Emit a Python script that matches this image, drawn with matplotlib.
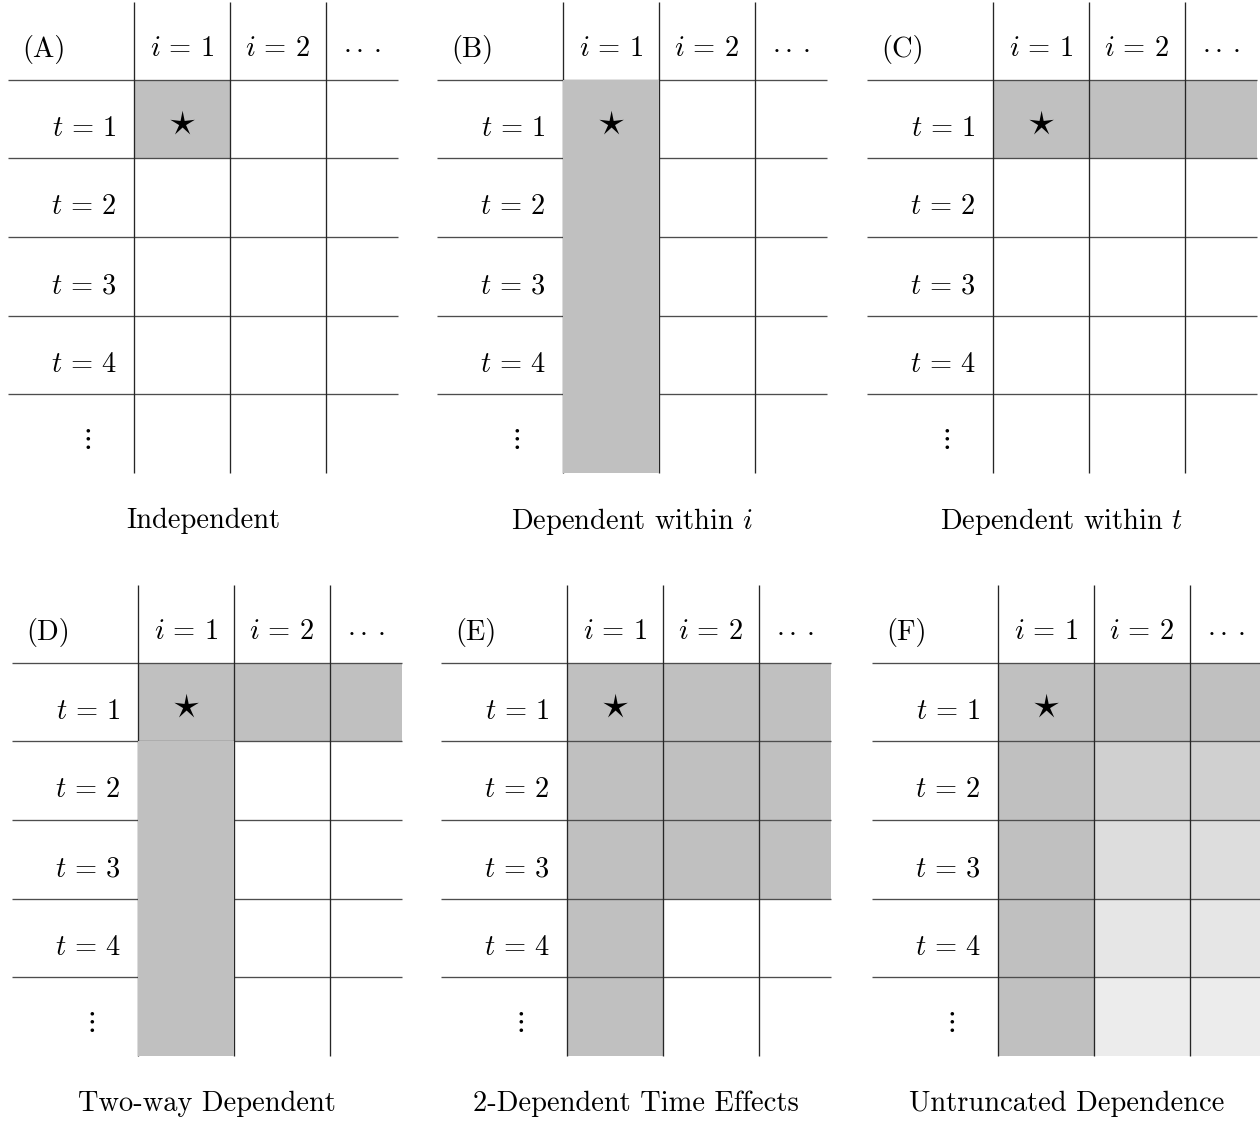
import numpy as np
import matplotlib
matplotlib.use("Agg")
import matplotlib.pyplot as plt

plt.rcParams['font.family'] = ['cmr10', 'DejaVu Serif']
plt.rcParams['mathtext.fontset'] = 'cm'

# panel letters and captions
panel_labels = ['(A)', '(B)', '(C)', '(D)', '(E)', '(F)']
captions = ['Independent', r'Dependent within $i$', r'Dependent within $t$',
            'Two-way Dependent', '2-Dependent Time Effects', 'Untruncated Dependence']
col_labels = [r'$i\,=\,1$', r'$i\,=\,2$', r'$\cdot\cdot\cdot$']
row_labels = [r'$t\,=\,1$', r'$t\,=\,2$', r'$t\,=\,3$', r'$t\,=\,4$', r'$\vdots$']

# cell brightness (1 = white), rows t=1..4, vdots ; cols i=1, i=2, dots
W = 1.0
G = 0.75
shade_A = [[G, W, W], [W, W, W], [W, W, W], [W, W, W], [W, W, W]]
shade_B = [[G, W, W], [G, W, W], [G, W, W], [G, W, W], [G, W, W]]
shade_C = [[G, G, G], [W, W, W], [W, W, W], [W, W, W], [W, W, W]]
shade_D = [[G, G, G], [G, W, W], [G, W, W], [G, W, W], [G, W, W]]
shade_E = [[G, G, G], [G, G, G], [G, G, G], [G, W, W], [G, W, W]]
shade_F = [[G, G, G], [G, 0.815, 0.815], [G, 0.865, 0.865], [G, 0.90, 0.90], [G, 0.925, 0.925]]
shades = [shade_A, shade_B, shade_C, shade_D, shade_E, shade_F]

# cells whose fill is painted over the grid lines
top_B = [[1, 0, 0]] * 5
top_D = [[0, 0, 0]] + [[1, 0, 0]] * 4
no_top = [[0, 0, 0]] * 5
on_top = [no_top, top_B, no_top, top_D, no_top, no_top]

# panel placement in pixels (left, top)
origins = [(8, 2), (437, 2), (867, 2), (12, 585), (441, 585), (872, 585)]
PW, PH = 390, 471
FW, FH = 1260, 1122

x_edges = np.array([0, 1, 2, 2.75])
y_edges = np.arange(6)
x_min = -1.3125
y_top = -0.99

fig = plt.figure(figsize=(FW / 100, FH / 100), dpi=100)

for k in range(6):
    left, top = origins[k]
    ax = fig.add_axes([left / FW, 1 - (top + PH) / FH, PW / FW, PH / FH])
    ax.set_xlim(x_min, 2.75)
    ax.set_ylim(5, y_top)
    ax.axis('off')

    vals = np.array(shades[k], dtype=float)
    mask = np.array(on_top[k], dtype=bool)
    under = np.ma.masked_where(mask, vals)
    over = np.ma.masked_where(~mask, vals)
    ax.pcolormesh(x_edges, y_edges, under, cmap='gray', vmin=0, vmax=1,
                  shading='flat', zorder=1, clip_on=False)
    ax.pcolormesh(x_edges, y_edges, over, cmap='gray', vmin=0, vmax=1,
                  shading='flat', zorder=3, clip_on=False)

    # grid lines
    for y in range(5):
        ax.plot([x_min, 2.75], [y, y], color='#4d4d4d', lw=0.95, zorder=2,
                solid_capstyle='butt', clip_on=False)
    for x in range(3):
        ax.plot([x, x], [y_top, 5], color='#262626', lw=0.95, zorder=2,
                solid_capstyle='butt', clip_on=False)

    # header texts
    ax.text(x_min + 0.145, -0.39, panel_labels[k], fontsize=20.5,
            ha='left', va='center', zorder=4)
    for j, lab in enumerate(col_labels):
        cx = (x_edges[j] + x_edges[j + 1]) / 2
        ax.text(cx, -0.39, lab, fontsize=20.5, ha='center', va='center', zorder=4)
    for r, lab in enumerate(row_labels):
        if r < 4:
            ax.text(-0.18, r + 0.62, lab, fontsize=20.5, ha='right',
                    va='center', zorder=4)
        else:
            ax.text(-0.5, r + 0.57, lab, fontsize=20.5, ha='center',
                    va='center', zorder=4)
    ax.text(0.5, 0.56, r'$\star$', fontsize=28, ha='center', va='center', zorder=4)

    ax.text(0.5, -(519 - PH) / PH, captions[k],
            transform=ax.transAxes, fontsize=20.5, ha='center', va='center',
            clip_on=False)

fig.savefig('out.png', dpi=100)
